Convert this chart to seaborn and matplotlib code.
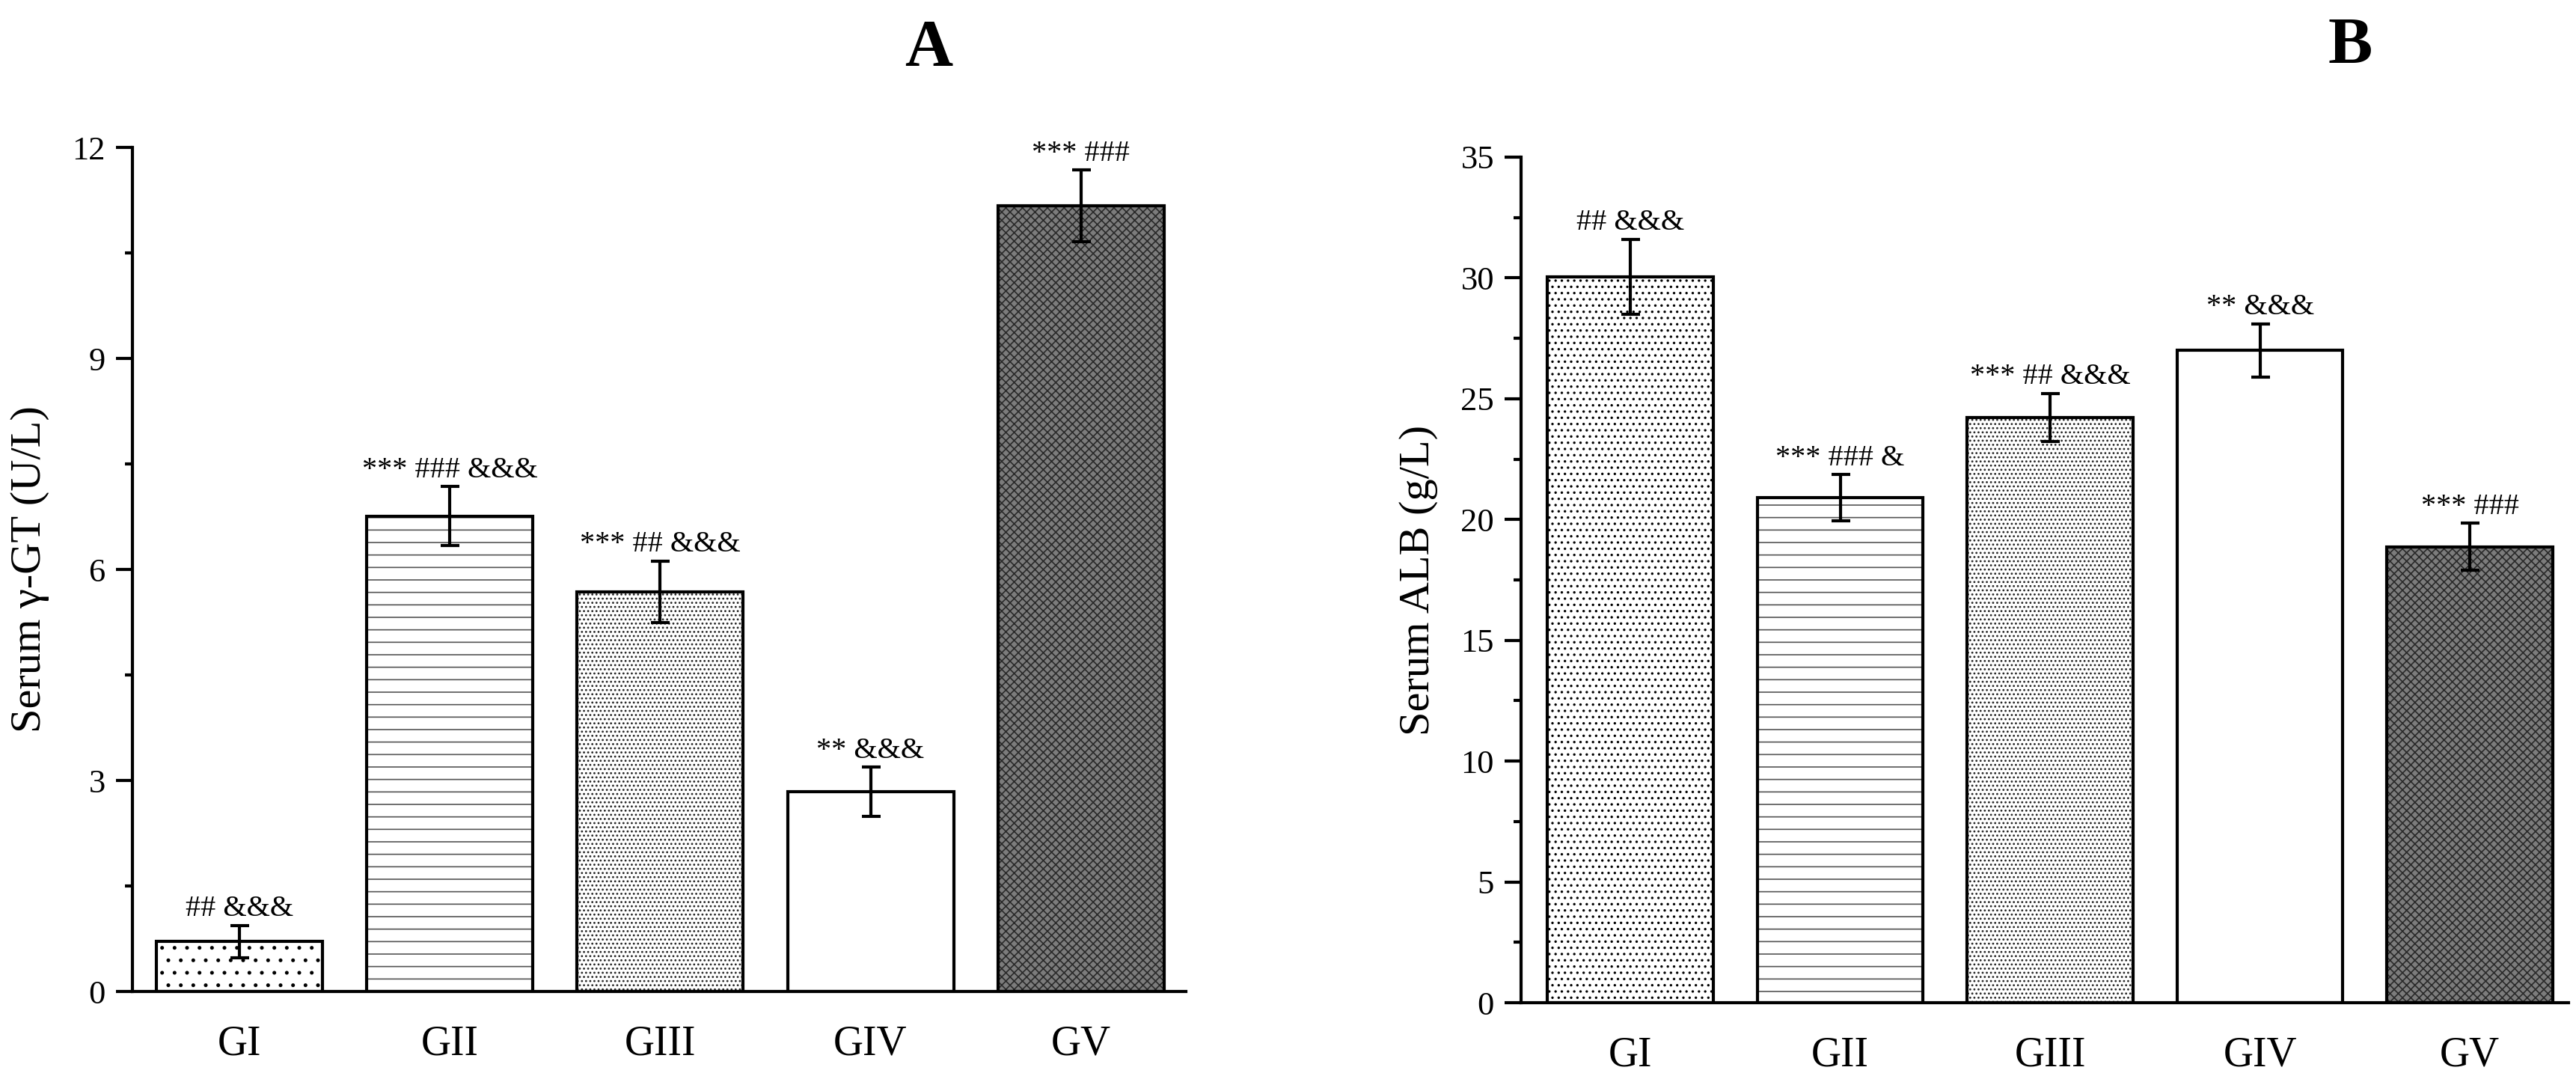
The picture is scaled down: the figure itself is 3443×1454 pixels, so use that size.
import numpy as np
import pandas as pd
import matplotlib
matplotlib.use("Agg")
import matplotlib.pyplot as plt
from matplotlib.patches import Rectangle
from matplotlib.ticker import MultipleLocator
import seaborn as sns

groups = ["GI", "GII", "GIII", "GIV", "GV"]

# panel A: serum gamma-GT (U/L)
ggt_mean = [0.71, 6.76, 5.68, 2.84, 11.17]
ggt_err = [0.23, 0.42, 0.44, 0.35, 0.51]
ggt_marks = ["## &&&", "*** ### &&&", "*** ## &&&", "** &&&", "*** ###"]

# panel B: serum ALB (g/L)
alb_mean = [30.05, 20.91, 24.22, 27.0, 18.87]
alb_err = [1.55, 0.95, 1.0, 1.1, 0.97]
alb_marks = ["## &&&", "*** ### &", "*** ## &&&", "** &&&", "*** ###"]

sns.set_style("ticks")
plt.rcParams["font.family"] = ["Liberation Serif", "DejaVu Serif"]
plt.rcParams["hatch.linewidth"] = 1.2
plt.rcParams["axes.linewidth"] = 3
for key in ["text.color", "axes.labelcolor", "axes.edgecolor", "xtick.color", "ytick.color"]:
    plt.rcParams[key] = "black"

fill = {"GI": "white", "GII": "white", "GIII": "white", "GIV": "white", "GV": "#7c7c7c"}
hatch_col = ["#000000", "#555555", "#222222", "#000000", "#2a2a2a"]


def draw_panel(ax, mean, err, marks, hatches, ylabel, ymax, major, minor, xlim):
    df = pd.DataFrame({"group": groups, "value": mean})
    sns.barplot(data=df, x="group", y="value", hue="group", palette=fill,
                legend=False, width=0.79, errorbar=None, ax=ax)
    # hatch layer takes the edge colour, so outline is drawn on top separately
    for patch, h, hc in zip(list(ax.patches), hatches, hatch_col):
        patch.set_hatch(h)
        patch.set_edgecolor(hc)
        patch.set_linewidth(0)
        ax.add_patch(Rectangle(patch.get_xy(), patch.get_width(), patch.get_height(),
                               fill=False, edgecolor="black", linewidth=3, zorder=3))
    x = np.arange(len(groups))
    ax.errorbar(x, mean, yerr=err, fmt="none", ecolor="black",
                elinewidth=3, capsize=9, capthick=3, zorder=5)
    for i in range(len(groups)):
        ax.annotate(marks[i], (x[i], mean[i] + err[i]), xytext=(0, 9),
                    textcoords="offset points", ha="center", va="baseline",
                    fontsize=29)
    ax.set_ylim(0, ymax)
    ax.set_xlim(*xlim)
    ax.yaxis.set_major_locator(MultipleLocator(major))
    ax.yaxis.set_minor_locator(MultipleLocator(minor))
    ax.tick_params(axis="y", which="major", length=16, width=3, labelsize=32, pad=10)
    ax.tick_params(axis="y", which="minor", length=7, width=3)
    ax.tick_params(axis="x", length=0, labelsize=40, pad=32)
    ax.set_xlabel("")
    ax.set_ylabel(ylabel, fontsize=42, labelpad=22)
    sns.despine(ax=ax)


fig = plt.figure(figsize=(34.43, 14.54), dpi=100)
ax_a = fig.add_axes([0.0514, 0.0887, 0.409, 0.7758])
ax_b = fig.add_axes([0.5905, 0.0784, 0.4066, 0.7772])

draw_panel(ax_a, ggt_mean, ggt_err, ggt_marks, [".", "-", "...", "", "xxx"],
           "Serum γ-GT (U/L)", 12, 3, 1.5, (-0.51, 4.5))
draw_panel(ax_b, alb_mean, alb_err, alb_marks, ["..", "-", "...", "", "xxx"],
           "Serum ALB (g/L)", 35, 5, 2.5, (-0.52, 4.47))

fig.text(0.3604, 0.955, "A", ha="center", va="center", fontsize=64, weight="bold")
fig.text(0.9123, 0.957, "B", ha="center", va="center", fontsize=64, weight="bold")

fig.savefig("out.png", dpi=100)
